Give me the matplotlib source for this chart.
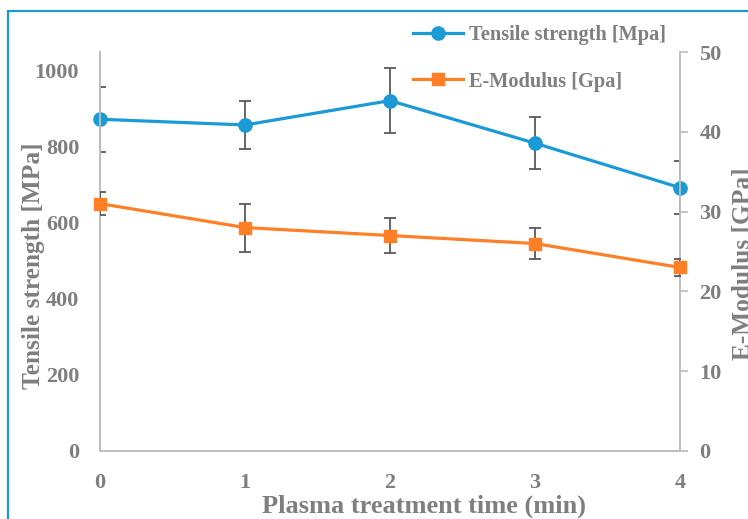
import matplotlib
matplotlib.use("Agg")
import matplotlib.pyplot as plt
from matplotlib.patches import Rectangle

# data
time_min = [0, 1, 2, 3, 4]
tensile = [873, 858, 922, 810, 693]          # MPa, left axis
tensile_err = [86, 62, 86, 69, 70]
modulus = [31, 28, 27, 26, 23]               # GPa, right axis
modulus_err = [1.4, 3.0, 2.2, 1.9, 1.1]

blue = '#1b9ad6'
orange = '#ff7f27'
grey = '#7f7f7f'
spine_grey = '#bfbfbf'
err_grey = '#595959'

plt.rcParams['font.family'] = ['Liberation Serif', 'DejaVu Serif']
plt.rcParams['font.weight'] = 'bold'

fig = plt.figure(figsize=(7.48, 5.19), dpi=100)
ax = fig.add_axes([100/748, 1-451/519, 580/748, 399/519])
ax2 = ax.twinx()

l1, = ax.plot(time_min, tensile, color=blue, lw=2.3, marker='o', ms=9.5,
              label='Tensile strength [Mpa]', zorder=4, clip_on=False)
ax.errorbar(time_min, tensile, yerr=tensile_err, fmt='none', ecolor=err_grey,
            elinewidth=1.3, capsize=4, capthick=1.3, zorder=3)

l2, = ax2.plot(time_min, modulus, color=orange, lw=2.3, marker='s', ms=9,
               label='E-Modulus [Gpa]', zorder=4, clip_on=False)
ax2.errorbar(time_min, modulus, yerr=modulus_err, fmt='none', ecolor=err_grey,
             elinewidth=1.3, capsize=4, capthick=1.3, zorder=3)

ax.set_xlim(0, 4)
ax.set_ylim(0, 1050)
ax2.set_ylim(0, 50)
ax.set_xticks(time_min)
ax.set_yticks(range(0, 1001, 200))
ax2.set_yticks(range(0, 51, 10))

for a in (ax, ax2):
    a.spines['top'].set_visible(False)
    for s in ('left', 'right', 'bottom'):
        a.spines[s].set_color(spine_grey)
        a.spines[s].set_linewidth(1.3)
        a.spines[s].set_zorder(1)

ax.tick_params(axis='x', length=0, pad=16, labelsize=16, labelcolor=grey)
ax.tick_params(axis='y', length=0, pad=15, labelsize=16, labelcolor=grey)
ax2.tick_params(axis='y', length=6, width=1.3, color=spine_grey, pad=8,
                labelsize=16, labelcolor=grey)

ax.set_xlabel('Plasma treatment time (min)', fontsize=19, color=grey, fontweight='bold')
ax.xaxis.set_label_coords(0.5586, -0.108)
ax.set_ylabel('Tensile strength [MPa]', fontsize=18.3, color=grey, fontweight='bold')
ax.yaxis.set_label_coords(-0.095, 0.464)
ax2.set_ylabel('E-Modulus [GPa]', fontsize=18.3, color=grey, fontweight='bold')
ax2.yaxis.set_label_coords(1.089, 0.47)

fig.legend(handles=[l1, l2], loc='upper left', bbox_to_anchor=(413/748, 1-25/519),
           frameon=False, fontsize=14.7, handlelength=2.45, labelspacing=1.3,
           handletextpad=0.3, labelcolor=grey, borderaxespad=0, borderpad=0)

# blue frame around the chart
fig.patches.append(Rectangle((8/748, -0.1), 1.2, 1.1 - 11/519, transform=fig.transFigure,
                             fill=False, edgecolor=blue, lw=1.6))

fig.savefig('out.png', dpi=100)
